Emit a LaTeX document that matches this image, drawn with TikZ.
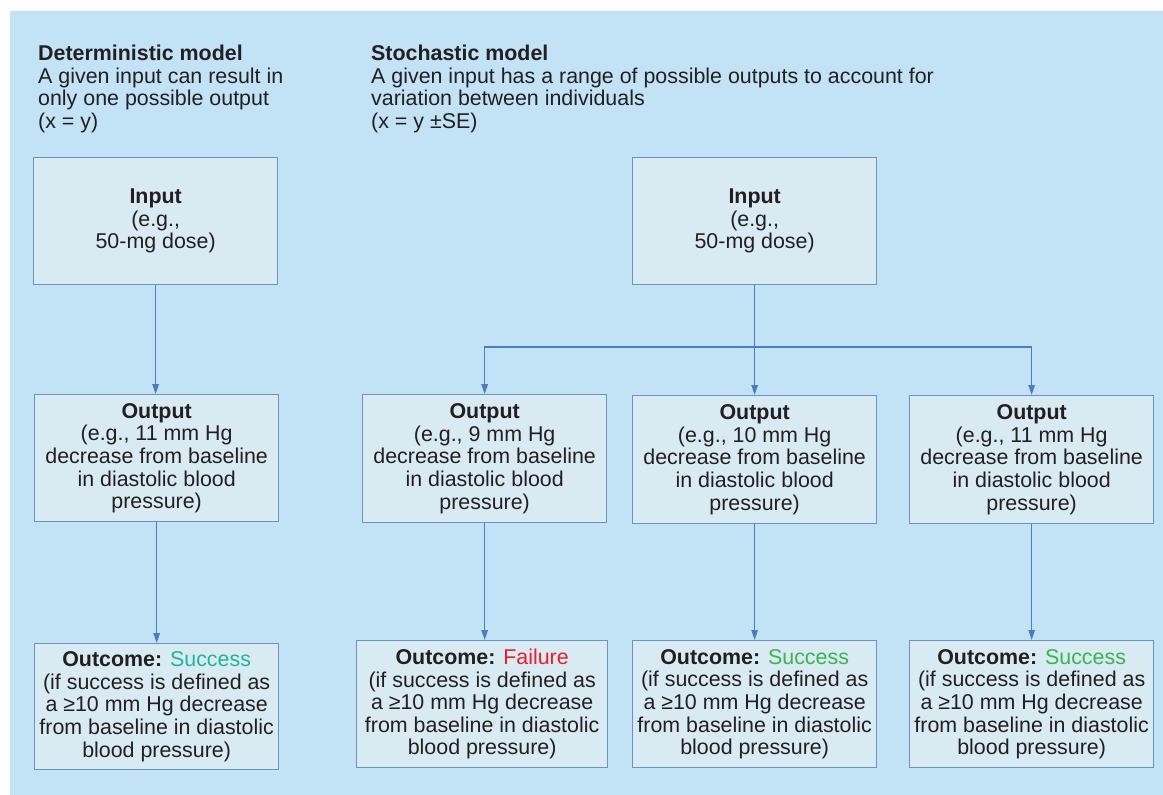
\documentclass[tikz,border=0pt]{standalone}
\usepackage{fontspec}
\setmainfont{Liberation Sans}
\usetikzlibrary{arrows.meta}
\definecolor{bgblue}{HTML}{C2E3F5}
\definecolor{boxfill}{HTML}{D8EAF2}
\definecolor{boxline}{HTML}{6A93C0}
\definecolor{arrowc}{HTML}{4A7DC0}
\definecolor{txt}{HTML}{231F20}
\definecolor{succteal}{HTML}{1DB59F}
\definecolor{succgreen}{HTML}{39B54A}
\definecolor{failred}{HTML}{EE1C25}
\newcommand{\outcometext}[1]{\textbf{Outcome:} #1\\(if success is defined as\\a ≥10 mm Hg decrease\\from baseline in diastolic\\blood pressure)}
\newcommand{\outputtext}[1]{\textbf{Output}\\(e.g., #1 mm Hg\\decrease from baseline\\in diastolic blood\\pressure)}
\begin{document}
\begin{tikzpicture}[x=1pt,y=-1pt,
  every node/.style={text=txt,font=\fontsize{21.4}{22.6}\selectfont},
  box/.style={draw=boxline, fill=boxfill, line width=1.3pt, align=center, inner sep=0pt, anchor=north west, minimum width=244pt, minimum height=127pt},
  title/.style={anchor=north west, align=left, inner sep=0pt},
  arr/.style={draw=arrowc, line width=1.2pt, -{Triangle[length=10pt,width=6.5pt]}},
  conn/.style={draw=arrowc, line width=1.2pt}]
\useasboundingbox (0,0) rectangle (1163,795);
\fill[bgblue] (10,11) rectangle (1163,795);

\node[title] (dtitle) at (38,45) {\textbf{Deterministic model}\\A given input can result in\\only one possible output\\(x = y)};
\node[title] (stitle) at (371,45) {\textbf{Stochastic model}\\A given input has a range of possible outputs to account for\\variation between individuals\\(x = y ±SE)};

\node[box] (din) at (33,157) {\textbf{Input}\\(e.g.,\\50-mg dose)};
\node[box] (dout) at (34,394) {\outputtext{11}};
\node[box, minimum height=126pt] (dc) at (34,643) {\outcometext{\textcolor{succteal}{Success}}};

\node[box] (sin) at (632,157) {\textbf{Input}\\(e.g.,\\50-mg dose)};
\node[box, minimum height=128pt] (so1) at (362,394) {\outputtext{9}};
\node[box, minimum height=128pt] (so2) at (632,395) {\outputtext{10}};
\node[box, minimum height=128pt] (so3) at (909,395) {\outputtext{11}};
\node[box, minimum width=251pt] (sc1) at (356,640) {\outcometext{\textcolor{failred}{Failure}}};
\node[box] (sc2) at (632,640) {\outcometext{\textcolor{succgreen}{Success}}};
\node[box] (sc3) at (909,640) {\outcometext{\textcolor{succgreen}{Success}}};

\draw[arr] (din.south) -- (din.south |- dout.north);
\draw[arr] (dout.south) -- (dout.south |- dc.north);

\coordinate (split) at (sin.south |- 0,347);
\draw[arr] (split) -| (so1.north);
\draw[arr] (split) -| (so3.north);
\draw[arr] (sin.south) -- (sin.south |- so2.north);

\draw[arr] (so1.south) -- (so1.south |- sc1.north);
\draw[arr] (so2.south) -- (so2.south |- sc2.north);
\draw[arr] (so3.south) -- (so3.south |- sc3.north);
\end{tikzpicture}
\end{document}
